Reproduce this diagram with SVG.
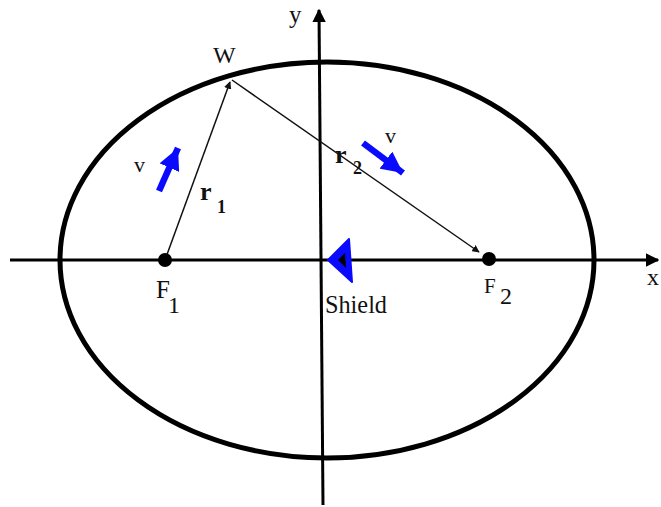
<svg xmlns="http://www.w3.org/2000/svg" width="661" height="507" viewBox="0 0 661 507">
<style>
.t{font-family:"Liberation Serif","Times New Roman",serif;fill:#111}
.ax{stroke:#000;stroke-width:3;fill:none}
.ln{stroke:#111;stroke-width:1.5;fill:none}
.bl{stroke:#0a0aff;stroke-width:6.5;fill:none}
</style>
<defs>
<marker id="ah" viewBox="0 0 10 10" refX="9" refY="5" markerWidth="5" markerHeight="5" orient="auto" markerUnits="strokeWidth">
<path d="M0,0 L10,5 L0,10 z" fill="#111"/>
</marker>
<marker id="axh" viewBox="0 0 10 10" refX="9" refY="5" markerWidth="4.5" markerHeight="4.5" orient="auto" markerUnits="strokeWidth">
<path d="M0,0 L10,5 L0,10 z" fill="#000"/>
</marker>
<marker id="bh" viewBox="0 0 10 10" refX="10" refY="5" markerWidth="3.3" markerHeight="3.3" orient="auto" markerUnits="strokeWidth">
<path d="M0,0 L10,5 L0,10 z" fill="#0a0aff"/>
</marker>
</defs>
<rect width="661" height="507" fill="#fff"/>
<g id="ellipse">
<ellipse cx="327" cy="260" rx="267" ry="198" fill="none" stroke="#000" stroke-width="5"/>
</g>
<g id="axes">
<line class="ax" x1="10" y1="260" x2="658" y2="260" marker-end="url(#axh)"/>
<line class="ax" x1="323" y1="505" x2="319" y2="10" marker-end="url(#axh)"/>
</g>
<g id="connectors">
<line class="ln" x1="165" y1="260" x2="230" y2="82" marker-end="url(#ah)"/>
<line class="ln" x1="232" y1="80" x2="479" y2="252" marker-end="url(#ah)"/>
<line class="bl" x1="159" y1="191" x2="178" y2="148" marker-end="url(#bh)"/>
<line class="bl" x1="363" y1="143" x2="403" y2="173" marker-end="url(#bh)"/>
</g>
<g id="F1">
<circle cx="165" cy="260" r="7" fill="#000"/>
<text class="t" x="156" y="298" font-size="25">F</text>
<text class="t" x="168" y="313" font-size="24">1</text>
</g>
<g id="F2">
<circle cx="489" cy="259" r="7" fill="#000"/>
<text class="t" x="484" y="293" font-size="21">F</text>
<text class="t" x="500" y="304" font-size="24">2</text>
</g>
<g id="W">
<text class="t" x="213" y="63" font-size="24">W</text>
</g>
<g id="shield">
<polygon points="328,260 349,239 352,282" fill="#0a0aff" stroke="#0a0aff" stroke-width="2" stroke-linejoin="round"/>
<polygon points="338,260 345,253 346,268" fill="#000"/>
<text class="t" x="325" y="313" font-size="26" textLength="62" lengthAdjust="spacingAndGlyphs">Shield</text>
</g>
<g id="labels">
<text class="t" x="289" y="23" font-size="25">y</text>
<text class="t" x="647" y="285" font-size="24">x</text>
<text class="t" x="134" y="172" font-size="22">v</text>
<text class="t" x="385" y="143" font-size="22">v</text>
<text class="t" x="200" y="200" font-size="26" font-weight="bold">r</text>
<text class="t" x="217" y="213" font-size="18" font-weight="bold">1</text>
<text class="t" x="335" y="163" font-size="26" font-weight="bold">r</text>
<text class="t" x="353" y="174" font-size="18" font-weight="bold">2</text>
</g>
</svg>
